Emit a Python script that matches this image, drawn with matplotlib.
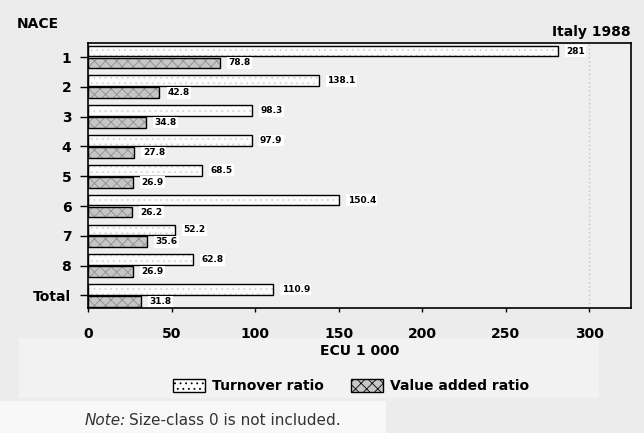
import matplotlib
matplotlib.use("Agg")
import matplotlib.pyplot as plt
from matplotlib.patches import Patch, Rectangle
import numpy as np

plt.rcParams['font.family'] = ['DejaVu Sans']
plt.rcParams['hatch.linewidth'] = 0.6

categories = ["1", "2", "3", "4", "5", "6", "7", "8", "Total"]
turnover = [281, 138.1, 98.3, 97.9, 68.5, 150.4, 52.2, 62.8, 110.9]
value_added = [78.8, 42.8, 34.8, 27.8, 26.9, 26.2, 35.6, 26.9, 31.8]
turnover_labels = ["281", "138.1", "98.3", "97.9", "68.5", "150.4", "52.2", "62.8", "110.9"]
value_added_labels = ["78.8", "42.8", "34.8", "27.8", "26.9", "26.2", "35.6", "26.9", "31.8"]
xticks = [0, 50, 100, 150, 200, 250, 300]

fig = plt.figure(figsize=(6.44, 4.33), dpi=100, facecolor="#ececec")

# slightly lighter paper behind the legend and the footnote
fig.patches.append(Rectangle((0.03, 0.08), 0.9, 0.14, transform=fig.transFigure,
                             facecolor="#f2f2f2", edgecolor="none", zorder=-5))
fig.patches.append(Rectangle((0.0, 0.0), 0.6, 0.075, transform=fig.transFigure,
                             facecolor="#f8f8f8", edgecolor="none", zorder=-5))

ax = fig.add_axes([0.1366, 0.2887, 0.98 - 0.1366, 0.9007 - 0.2887])
ax.set_facecolor("#efefef")

y = np.arange(len(categories))
h = 0.36
off = 0.2

turn_fill = "#fcfcfc"
va_fill = "#c6c6c6"

# textured fill first, then a crisp black outline on top
ax.barh(y - off, turnover, height=h, color=turn_fill, hatch="...",
        edgecolor="#d4d4d4", linewidth=0, zorder=2)
ax.barh(y - off, turnover, height=h, fill=False, edgecolor="black",
        linewidth=1.0, zorder=3)
ax.barh(y + off, value_added, height=h, color=va_fill, hatch="xxx",
        edgecolor="#8e8e8e", linewidth=0, zorder=2)
ax.barh(y + off, value_added, height=h, fill=False, edgecolor="black",
        linewidth=1.0, zorder=3)

box = dict(facecolor="white", edgecolor="none", pad=1.0)
for yi, v, s in zip(y, turnover, turnover_labels):
    ax.text(v + 5, yi - off, s, va="center", ha="left", fontsize=6.5,
            fontweight="bold", bbox=box, zorder=4)
for yi, v, s in zip(y, value_added, value_added_labels):
    ax.text(v + 5, yi + off, s, va="center", ha="left", fontsize=6.5,
            fontweight="bold", bbox=box, zorder=4)

ax.axvline(300, color="#c4c4c4", linestyle=(0, (1, 2)), linewidth=1.0, zorder=1)

ax.set_xlim(0, 325)
ax.set_ylim(len(categories) - 1 + 0.42, -0.47)
ax.set_yticks(y)
ax.set_yticklabels(categories, fontsize=10, fontweight="bold")
ax.set_xticks(xticks)
ax.set_xticklabels([str(t) for t in xticks], fontsize=10, fontweight="bold")
ax.tick_params(axis="y", length=6, width=1, pad=6)
ax.tick_params(axis="x", length=3, width=1, pad=11)
for sp in ax.spines.values():
    sp.set_linewidth(1.2)

ax.set_xlabel("ECU 1 000", fontsize=10, fontweight="bold", labelpad=2)

fig.text(0.026, 0.945, "NACE", fontsize=10, fontweight="bold", ha="left", va="center")
fig.text(0.98, 0.925, "Italy 1988", fontsize=10, fontweight="bold", ha="right", va="center")

handles = [
    Patch(facecolor=turn_fill, edgecolor="black", hatch="...", label="Turnover ratio"),
    Patch(facecolor=va_fill, edgecolor="black", hatch="xxx", label="Value added ratio"),
]
fig.legend(handles=handles, loc="center", bbox_to_anchor=(0.545, 0.108), ncol=2,
           frameon=False, handlelength=2.3, handleheight=1.1,
           columnspacing=2.0, handletextpad=0.5, prop={"weight": "bold", "size": 10})

fig.text(0.132, 0.028, "Note:", fontsize=11, fontstyle="italic", color="#333333",
         ha="left", va="center")
fig.text(0.200, 0.028, "Size-class 0 is not included.", fontsize=11, color="#333333",
         ha="left", va="center")

fig.savefig("out.png", dpi=100, facecolor=fig.get_facecolor())
